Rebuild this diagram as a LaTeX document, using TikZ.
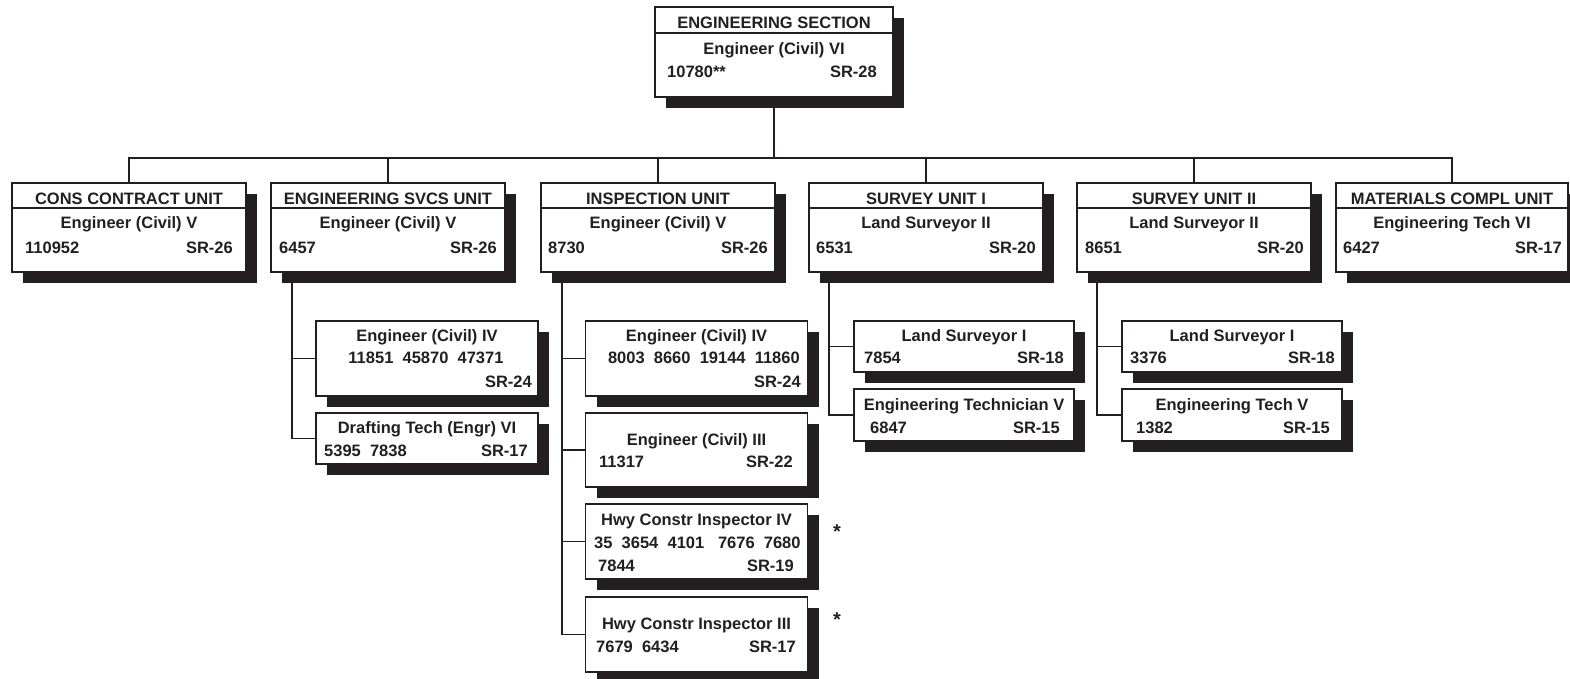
\documentclass[tikz,border=0pt]{standalone}
\usepackage{fontspec}
\setmainfont{Liberation Sans}
\usetikzlibrary{calc,shadows}
\definecolor{ink}{RGB}{35,31,32}

\begin{document}
\begin{tikzpicture}[x=1pt,y=-1pt,
  every node/.style={inner sep=0pt,text=ink,font=\fontsize{16.5}{19}\selectfont\bfseries},
  box/.style={draw=ink,line width=1.6pt,fill=white,
    drop shadow={shadow xshift=11pt,shadow yshift=-11pt,fill=ink,opacity=1}},
  unit/.style={box,minimum width=234pt,minimum height=89pt},
  post/.style={box,minimum width=222pt},
  rule/.style={draw=ink,line width=1.6pt},
  conn/.style={draw=ink,line width=1.8pt},
  star/.style={anchor=base,font=\fontsize{20}{22}\selectfont\bfseries}]
  \useasboundingbox (0,0) rectangle (1570,678);

  % section head
  \node[box,minimum width=238pt,minimum height=90pt] (sect) at (774,52) {};
  \draw[rule] ($(sect.north west)+(0,27)$) -- ($(sect.north east)+(0,27)$);
  \node[anchor=base] (sect-h) at (774,28) {ENGINEERING SECTION};
  \node[anchor=base] (sect-t) at (774,54) {Engineer (Civil) VI};
  \node[anchor=base west] (sect-n) at (667,77) {10780**};
  \node[anchor=base east] (sect-sr) at (877,77) {SR-28};

  % units
  \node[unit] (cons) at (129,227.5) {};
  \node[unit] (svcs) at (388,227.5) {};
  \node[unit] (insp) at (658,227.5) {};
  \node[unit] (surv1) at (926,227.5) {};
  \node[unit] (surv2) at (1194,227.5) {};
  \node[unit,minimum width=232pt] (mat) at (1452,227.5) {};
  \draw[rule] ($(cons.north west)+(0,26)$) -- ($(cons.north east)+(0,26)$);
  \draw[rule] ($(svcs.north west)+(0,26)$) -- ($(svcs.north east)+(0,26)$);
  \draw[rule] ($(insp.north west)+(0,26)$) -- ($(insp.north east)+(0,26)$);
  \draw[rule] ($(surv1.north west)+(0,26)$) -- ($(surv1.north east)+(0,26)$);
  \draw[rule] ($(surv2.north west)+(0,26)$) -- ($(surv2.north east)+(0,26)$);
  \draw[rule] ($(mat.north west)+(0,26)$) -- ($(mat.north east)+(0,26)$);

  \node[anchor=base] (cons-h) at (129,204) {CONS CONTRACT UNIT};
  \node[anchor=base] (cons-t) at (129,228) {Engineer (Civil) V};
  \node[anchor=base west] (cons-n) at (25,253) {110952};
  \node[anchor=base east] (cons-sr) at (233,253) {SR-26};

  \node[anchor=base] (svcs-h) at (388,204) {ENGINEERING SVCS UNIT};
  \node[anchor=base] (svcs-t) at (388,228) {Engineer (Civil) V};
  \node[anchor=base west] (svcs-n) at (279,253) {6457};
  \node[anchor=base east] (svcs-sr) at (497,253) {SR-26};

  \node[anchor=base] (insp-h) at (658,204) {INSPECTION UNIT};
  \node[anchor=base] (insp-t) at (658,228) {Engineer (Civil) V};
  \node[anchor=base west] (insp-n) at (548,253) {8730};
  \node[anchor=base east] (insp-sr) at (768,253) {SR-26};

  \node[anchor=base] (surv1-h) at (926,204) {SURVEY UNIT I};
  \node[anchor=base] (surv1-t) at (926,228) {Land Surveyor II};
  \node[anchor=base west] (surv1-n) at (816,253) {6531};
  \node[anchor=base east] (surv1-sr) at (1036,253) {SR-20};

  \node[anchor=base] (surv2-h) at (1194,204) {SURVEY UNIT II};
  \node[anchor=base] (surv2-t) at (1194,228) {Land Surveyor II};
  \node[anchor=base west] (surv2-n) at (1085,253) {8651};
  \node[anchor=base east] (surv2-sr) at (1304,253) {SR-20};

  \node[anchor=base] (mat-h) at (1452,204) {MATERIALS COMPL UNIT};
  \node[anchor=base] (mat-t) at (1452,228) {Engineering Tech VI};
  \node[anchor=base west] (mat-n) at (1343,253) {6427};
  \node[anchor=base east] (mat-sr) at (1562,253) {SR-17};

  % positions under the units
  \node[post,minimum height=75pt] (es4) at (427,358.5) {};
  \node[post,minimum height=51pt] (edt) at (427,438.5) {};
  \node[post,minimum height=75pt] (ei4) at (696.5,358.5) {};
  \node[post,minimum height=74pt] (ei3) at (696.5,450) {};
  \node[post,minimum height=75pt] (hw4) at (696.5,541.5) {};
  \node[post,minimum height=75pt] (hw3) at (696.5,634.5) {};
  \node[post,minimum width=220pt,minimum height=51pt] (s1ls) at (964,346.5) {};
  \node[post,minimum width=220pt,minimum height=52pt] (s1et) at (964,415) {};
  \node[post,minimum width=220pt,minimum height=51pt] (s2ls) at (1232,346.5) {};
  \node[post,minimum width=220pt,minimum height=52pt] (s2et) at (1232,415) {};

  \node[anchor=base] (es4-t) at (427,341) {Engineer (Civil) IV};
  \node[anchor=base] (es4-n) at (426,363) {11851~~45870~~47371};
  \node[anchor=base east] (es4-sr) at (532,387) {SR-24};

  \node[anchor=base] (edt-t) at (427,433) {Drafting Tech (Engr) VI};
  \node[anchor=base west] (edt-n) at (324,456) {5395~~7838};
  \node[anchor=base east] (edt-sr) at (528,456) {SR-17};

  \node[anchor=base] (ei4-t) at (696.5,341) {Engineer (Civil) IV};
  \node[anchor=base east] (ei4-n) at (800,363) {8003~~8660~~19144~~11860};
  \node[anchor=base east] (ei4-sr) at (801,387) {SR-24};

  \node[anchor=base] (ei3-t) at (696.5,445) {Engineer (Civil) III};
  \node[anchor=base west] (ei3-n) at (599,467) {11317};
  \node[anchor=base east] (ei3-sr) at (793,467) {SR-22};

  \node[anchor=base] (hw4-t) at (696.5,525) {Hwy Constr Inspector IV};
  \node[anchor=base west] (hw4-n) at (594,548) {35~~3654~~4101~~~7676~~7680};
  \node[anchor=base west] (hw4-m) at (598,571) {7844};
  \node[anchor=base east] (hw4-sr) at (794,571) {SR-19};
  \node[star] (hw4-x) at (837,538) {*};

  \node[anchor=base] (hw3-t) at (696.5,629) {Hwy Constr Inspector III};
  \node[anchor=base west] (hw3-n) at (596,652) {7679~~6434};
  \node[anchor=base east] (hw3-sr) at (796,652) {SR-17};
  \node[star] (hw3-x) at (837,626) {*};

  \node[anchor=base] (s1ls-t) at (964,341) {Land Surveyor I};
  \node[anchor=base west] (s1ls-n) at (864,363) {7854};
  \node[anchor=base east] (s1ls-sr) at (1064,363) {SR-18};

  \node[anchor=base] (s1et-t) at (964,410) {Engineering Technician V};
  \node[anchor=base west] (s1et-n) at (870,433) {6847};
  \node[anchor=base east] (s1et-sr) at (1060,433) {SR-15};

  \node[anchor=base] (s2ls-t) at (1232,341) {Land Surveyor I};
  \node[anchor=base west] (s2ls-n) at (1130,363) {3376};
  \node[anchor=base east] (s2ls-sr) at (1335,363) {SR-18};

  \node[anchor=base] (s2et-t) at (1232,410) {Engineering Tech V};
  \node[anchor=base west] (s2et-n) at (1136,433) {1382};
  \node[anchor=base east] (s2et-sr) at (1330,433) {SR-15};

  % connectors
  \coordinate (bus) at (0,158);
  \draw[conn] (sect.south) -- (sect.south |- bus);
  \draw[conn] (cons.north) -- (cons.north |- bus) -- (mat.north |- bus) -- (mat.north);
  \draw[conn] (svcs.north) -- (svcs.north |- bus);
  \draw[conn] (insp.north) -- (insp.north |- bus);
  \draw[conn] (surv1.north) -- (surv1.north |- bus);
  \draw[conn] (surv2.north) -- (surv2.north |- bus);

  \draw[conn] ($(svcs.south west)+(22,0)$) |- (edt.west);
  \draw[conn] ($(svcs.south west)+(22,0)$) |- (es4.west);
  \draw[conn] ($(insp.south west)+(22,0)$) |- (hw3.west);
  \draw[conn] ($(insp.south west)+(22,0)$) |- (hw4.west);
  \draw[conn] ($(insp.south west)+(22,0)$) |- (ei3.west);
  \draw[conn] ($(insp.south west)+(22,0)$) |- (ei4.west);
  \draw[conn] ($(surv1.south west)+(21,0)$) |- (s1et.west);
  \draw[conn] ($(surv1.south west)+(21,0)$) |- (s1ls.west);
  \draw[conn] ($(surv2.south west)+(21,0)$) |- (s2et.west);
  \draw[conn] ($(surv2.south west)+(21,0)$) |- (s2ls.west);
\end{tikzpicture}
\end{document}
